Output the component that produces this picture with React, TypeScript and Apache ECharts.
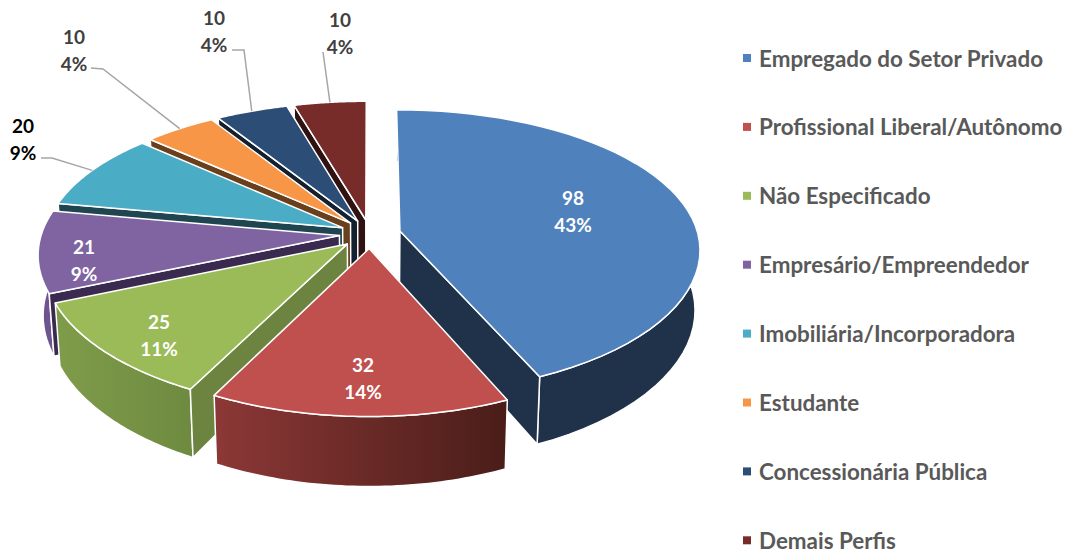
import React, { useEffect, useRef } from "react";
import * as echarts from "echarts";

const categories = [
  "Empregado do Setor Privado",
  "Profissional Liberal/Autônomo",
  "Não Especificado",
  "Empresário/Empreendedor",
  "Imobiliária/Incorporadora",
  "Estudante",
  "Concessionária Pública",
  "Demais Perfis",
];
const values = [98, 32, 25, 21, 20, 10, 10, 10];

const topColors = ["#4F81BD", "#C0504D", "#9BBB59", "#8064A2", "#4BACC6", "#F79646", "#2C4D75", "#772C2A"];
const wallColors = ["#1F3249", "#5A201E", "#6C843F", "#3A2A50", "#1E4550", "#6A3F1C", "#12202F", "#2F1211"];
const sideLeft = ["#1F3249", "#8C3836", "#7F9C4A", "#6E5490", "#3D8FA5", "#C97A38", "#233E5E", "#5F2322"];
const sideRight = ["#1F3249", "#4A1D19", "#6E8A40", "#6E5490", "#3D8FA5", "#C97A38", "#233E5E", "#5F2322"];

// painter's order: far slices first
const drawOrder = [0, 7, 6, 5, 4, 3, 2, 1];

// label placement: centre of the two-line text, optional elbow of the leader
const labelPos: [number, number][] = [
  [573, 211], [363, 378], [159, 335], [84, 260], [23, 139], [74, 50], [214, 31], [340, 33],
];
const labelColor = ["#fff", "#fff", "#fff", "#fff", "#000", "#404040", "#404040", "#404040"];
const leaderPath: ([number, number][] | null)[] = [
  null, null, null, null,
  [[41, 158], [52, 158]],
  [[91, 68], [103, 69]],
  [[232, 50], [244, 50]],
  [[323, 52]],
];

const total = values.reduce((a, b) => a + b, 0);
const CX = 370, CY = 234, A = 298, B = 139.4, P = 0.143, PX = 0.125, E = 0.103, H = 59, CONV = 0.985;

function project(X: number, D: number, low: boolean): [number, number] {
  const s = 1 / (1 + P * D);
  const sx = 1 / (1 + PX * D);
  let x = CX + A * X * sx;
  let y = CY - B * D * s;
  if (low) {
    x = CX + (x - CX) * CONV;
    y += H * s;
  }
  return [x, y];
}

function sliceGeom(i: number) {
  const before = values.slice(0, i).reduce((a, b) => a + b, 0);
  const t0 = (before / total) * Math.PI * 2;
  const t1 = ((before + values[i]) / total) * Math.PI * 2;
  const mid = (t0 + t1) / 2;
  const ox = E * Math.sin(mid);
  const oy = E * Math.cos(mid);
  const pt = (t: number, r: number, low: boolean) =>
    project(ox + r * Math.sin(t), oy + r * Math.cos(t), low);
  return { t0, t1, mid, pt };
}

function renderSlice(i: number) {
  const { t0, t1, mid, pt } = sliceGeom(i);
  const steps = 48;
  const top: [number, number][] = [];
  const bottom: [number, number][] = [];
  for (let k = 0; k <= steps; k++) {
    const t = t0 + ((t1 - t0) * k) / steps;
    top.push(pt(t, 1, false));
    bottom.push(pt(t, 1, true));
  }
  const apexT = pt(0, 0, false);
  const apexB = pt(0, 0, true);
  const edge = { stroke: "#fff", lineWidth: 1.5, lineJoin: "round" };
  const children: any[] = [
    {
      type: "polygon",
      shape: { points: [...top, ...bottom.slice().reverse()] },
      style: {
        fill: new echarts.graphic.LinearGradient(1, 0, 0, 0, [
          { offset: 0, color: sideRight[i] },
          { offset: 1, color: sideLeft[i] },
        ]),
        ...edge,
      },
    },
  ];
  // a radial wall is only seen when it faces the viewer
  if (Math.sin(t0) < -1e-6) {
    children.push({
      type: "polygon",
      shape: { points: [apexT, top[0], bottom[0], apexB] },
      style: { fill: wallColors[i], ...edge },
    });
  }
  if (Math.sin(t1) > 1e-6) {
    children.push({
      type: "polygon",
      shape: { points: [apexT, top[steps], bottom[steps], apexB] },
      style: { fill: wallColors[i], ...edge },
    });
  }
  children.push({
    type: "polygon",
    shape: { points: [apexT, ...top] },
    style: { fill: topColors[i], ...edge },
  });
  const lead = leaderPath[i];
  if (lead) {
    children.push({
      type: "polyline",
      shape: { points: [...lead, pt(mid, 1, false)] },
      style: { stroke: "#A6A6A6", lineWidth: 1.5, fill: "none" },
    });
  }
  const pct = Math.round((values[i] / total) * 100);
  children.push({
    type: "text",
    x: labelPos[i][0],
    y: labelPos[i][1],
    style: {
      text: `${values[i]}\n${pct}%`,
      fill: labelColor[i],
      fontFamily: "Lato",
      fontWeight: "bold",
      fontSize: 19,
      lineHeight: 27,
      align: "center",
      verticalAlign: "middle",
    },
  });
  return { type: "group", children };
}

export default function App() {
  const ref = useRef<HTMLDivElement>(null);
  useEffect(() => {
    const chart = echarts.init(ref.current!, null, { renderer: "svg" });
    chart.setOption({
      animation: false,
      backgroundColor: "#fff",
      legend: {
        orient: "vertical",
        left: 743,
        top: 44,
        height: 530,
        padding: 0,
        data: categories,
        selectedMode: false,
        icon: "rect",
        itemWidth: 8,
        itemHeight: 8,
        itemGap: 40.9,
        textStyle: {
          fontFamily: "Lato",
          fontWeight: "bold",
          fontSize: 22.4,
          lineHeight: 28,
          color: "#595959",
          padding: [0, 0, 0, 3],
        },
      },
      series: drawOrder.map((i) => ({
        type: "custom",
        name: categories[i],
        coordinateSystem: "none",
        silent: true,
        itemStyle: { color: topColors[i] },
        data: [values[i]],
        renderItem: () => renderSlice(i),
      })),
    });
    return () => chart.dispose();
  }, []);
  return <div ref={ref} style={{ position: "absolute", left: 0, top: 0, width: 1070, height: 554 }} />;
}
